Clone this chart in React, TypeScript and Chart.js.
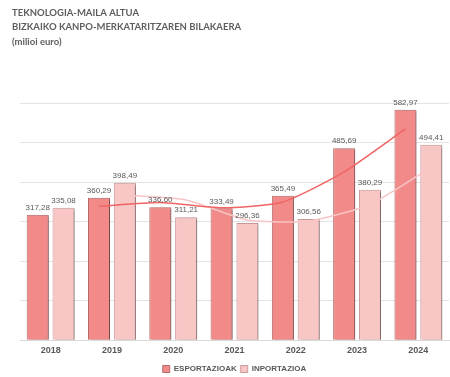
import React, { useEffect, useRef } from "react";
import { Chart, registerables } from "chart.js";

Chart.register(...registerables);

const years = ["2018", "2019", "2020", "2021", "2022", "2023", "2024"];
const esportazioak = [317.28, 360.29, 336.6, 333.49, 365.49, 485.69, 582.97];
const inportazioak = [335.08, 398.49, 311.21, 296.36, 306.56, 380.29, 494.41];
// trend lines (2-period moving average)
const esportTrend = [null, 338.8, 348.4, 335.0, 349.5, 425.6, 534.3];
const inportTrend = [null, 366.8, 354.8, 303.8, 301.5, 343.4, 437.4];
const titleLines = [
  "TEKNOLOGIA-MAILA ALTUA",
  "BIZKAIKO KANPO-MERKATARITZAREN BILAKAERA",
  "(milioi euro)",
];

const RED = "#F28A8A";
const PINK = "#F9C6C6";
const TEXT = "#595959";
const CAT_PCT = 0.843;
const BAR_PCT = 0.853;

const fmt = (v: number) => v.toFixed(2).replace(".", ",");

const shadowPlugin = {
  id: "barShadow",
  beforeDatasetDraw(chart: any, args: any) {
    const ds = chart.data.datasets[args.index];
    if (ds.type !== "line") {
      const ctx = chart.ctx;
      ctx.save();
      ctx.shadowColor = "rgba(0,0,0,0.35)";
      ctx.shadowOffsetX = 2;
      ctx.shadowOffsetY = 1;
      ctx.shadowBlur = 2;
    }
  },
  afterDatasetDraw(chart: any, args: any) {
    const ds = chart.data.datasets[args.index];
    if (ds.type !== "line") chart.ctx.restore();
  },
};

// put each trend line's points on the centres of its own series' bars
const alignPlugin = {
  id: "alignTrend",
  afterDatasetsUpdate(chart: any) {
    chart.data.datasets.forEach((ds: any, i: number) => {
      if (ds.type !== "line") return;
      const barMeta = chart.getDatasetMeta(ds.barIndex);
      const meta = chart.getDatasetMeta(i);
      meta.data.forEach((pt: any, j: number) => {
        const bar = barMeta.data[j];
        if (bar) pt.x = bar.x;
      });
      if (meta.dataset) {
        meta.dataset._pointsUpdated = false;
        delete meta.dataset._path;
      }
    });
  },
};

const labelsPlugin = {
  id: "barLabels",
  afterDatasetsDraw(chart: any) {
    const ctx = chart.ctx;
    ctx.save();
    ctx.font = "8px 'Liberation Sans', Arial, sans-serif";
    ctx.fillStyle = TEXT;
    ctx.textAlign = "center";
    ctx.textBaseline = "bottom";
    chart.data.datasets.forEach((ds: any, i: number) => {
      if (ds.type === "line") return;
      const meta = chart.getDatasetMeta(i);
      meta.data.forEach((el: any, j: number) => {
        ctx.fillText(fmt(ds.data[j]), el.x, el.y - 3);
      });
    });
    ctx.restore();
  },
};

const titlePlugin = {
  id: "leftTitle",
  afterDraw(chart: any) {
    const ctx = chart.ctx;
    ctx.save();
    ctx.font = "bold 9.5px Lato, 'Open Sans', sans-serif";
    ctx.fillStyle = "#5E5E5E";
    ctx.textAlign = "left";
    ctx.textBaseline = "middle";
    titleLines.forEach((t, i) => {
      ctx.fillText(t, 12, 12.5 + i * 14.5);
    });
    ctx.restore();
  },
};

export default function App() {
  const ref = useRef<HTMLCanvasElement>(null);
  useEffect(() => {
    if (!ref.current) return;
    const chart = new Chart(ref.current, {
      type: "bar",
      data: {
        labels: years,
        datasets: [
          {
            type: "bar",
            label: "ESPORTAZIOAK",
            data: esportazioak,
            backgroundColor: RED,
            borderColor: "#B76A6A",
            borderWidth: 1,
            categoryPercentage: CAT_PCT,
            barPercentage: BAR_PCT,
            order: 2,
          },
          {
            type: "bar",
            label: "INPORTAZIOA",
            data: inportazioak,
            backgroundColor: PINK,
            borderColor: "#C99A9A",
            borderWidth: 1,
            categoryPercentage: CAT_PCT,
            barPercentage: BAR_PCT,
            order: 2,
          },
          {
            type: "line",
            label: "trendE",
            barIndex: 0,
            data: esportTrend,
            borderColor: "#F06464",
            borderWidth: 1.5,
            pointRadius: 0,
            tension: 0.2,
            order: 0,
          },
          {
            type: "line",
            label: "trendI",
            barIndex: 1,
            data: inportTrend,
            borderColor: "#F9C4C4",
            borderWidth: 1.5,
            pointRadius: 0,
            tension: 0.2,
            order: 0,
          },
        ] as any,
      },
      options: {
        animation: false,
        responsive: false,
        maintainAspectRatio: false,
        layout: { padding: { left: 20, right: 1, top: 103, bottom: -6 } },
        scales: {
          x: {
            grid: { display: false, drawTicks: false, tickLength: 0 },
            border: { display: true, color: "#D9D9D9" },
            ticks: {
              color: TEXT,
              font: { family: "'Liberation Sans', Arial, sans-serif", size: 9, weight: "bold" },
              padding: 5,
            },
          },
          y: {
            min: 0,
            max: 600,
            ticks: { display: false, stepSize: 100 },
            border: { display: false },
            grid: { color: "#E4E4E4", drawTicks: false },
            afterFit: (s: any) => {
              s.width = 0;
            },
          },
        } as any,
        plugins: {
          legend: {
            position: "bottom",
            labels: {
              filter: (item: any) => item.datasetIndex < 2,
              boxWidth: 7,
              boxHeight: 7,
              color: TEXT,
              padding: 4,
              font: { family: "'Liberation Sans', Arial, sans-serif", size: 8, weight: "bold" },
            },
          },
          tooltip: { enabled: false },
        },
      },
      plugins: [alignPlugin, shadowPlugin, labelsPlugin, titlePlugin],
    });
    return () => chart.destroy();
  }, []);
  return (
    <div style={{ position: "absolute", left: 0, top: 0, width: 450, height: 377, background: "#fff" }}>
      <canvas ref={ref} width={450} height={377} style={{ width: 450, height: 377 }} />
    </div>
  );
}
